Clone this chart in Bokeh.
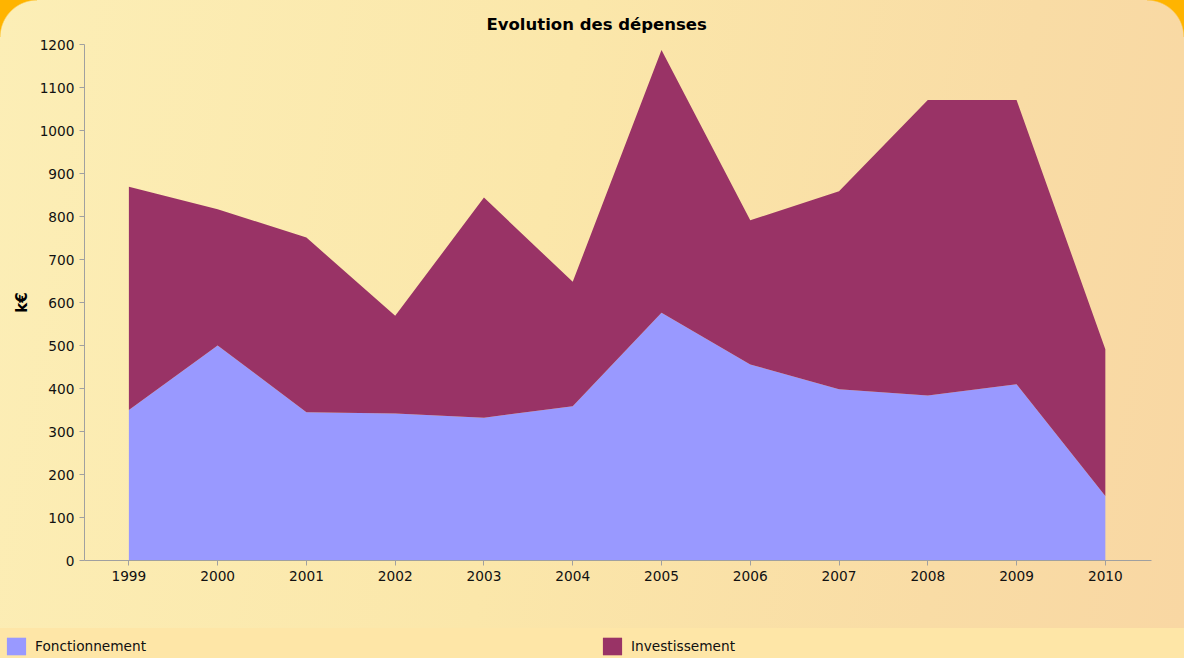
from bokeh.plotting import figure
from bokeh.models import ColumnDataSource, Range1d, FixedTicker, Legend, LegendItem
from bokeh.embed import file_html
from bokeh.resources import INLINE

# ---- data ----
years = [1999, 2000, 2001, 2002, 2003, 2004, 2005, 2006, 2007, 2008, 2009, 2010]
fonctionnement = [350, 500, 345, 342, 332, 359, 576, 456, 398, 384, 410, 150]
investissement = [519, 317, 406, 227, 512, 289, 611, 335, 461, 687, 661, 341]
series_names = ["Fonctionnement", "Investissement"]
series_colors = ["#9999FF", "#993366"]
y_ticks = [0, 100, 200, 300, 400, 500, 600, 700, 800, 900, 1000, 1100, 1200]
title_text = "Evolution des dépenses"
y_label = "k€"

src = ColumnDataSource(dict(year=years,
                            Fonctionnement=fonctionnement,
                            Investissement=investissement))

FONT = "DejaVu Sans"
AXIS_GRAY = "#A0A0A0"
W = 1184

p = figure(width=W, height=628, output_backend="svg", toolbar_location=None,
           x_range=Range1d(1998.5, 2010.52), y_range=Range1d(0, 1200),
           min_border_left=84, min_border_right=33, min_border_top=44,
           min_border_bottom=68, title=title_text)

renderers = p.varea_stack(series_names, x="year", color=series_colors, source=src)

# title
p.title.text_font = FONT
p.title.text_font_size = "16.5px"
p.title.text_font_style = "bold"
p.title.text_color = "#000000"
p.title.align = "left"
p.title.offset = 402
p.title.standoff = 22

# axes
p.xaxis.ticker = FixedTicker(ticks=years)
p.yaxis.ticker = FixedTicker(ticks=y_ticks)
for ax in (p.xaxis, p.yaxis):
    ax.axis_line_color = AXIS_GRAY
    ax.major_tick_line_color = AXIS_GRAY
    ax.major_tick_out = 5
    ax.major_tick_in = 0
    ax.minor_tick_line_color = None
    ax.major_label_text_font = FONT
    ax.major_label_text_font_size = "13.7px"
    ax.major_label_text_color = "#111111"
    ax.major_label_standoff = 5
p.yaxis.axis_label = y_label
p.yaxis.axis_label_text_font = FONT
p.yaxis.axis_label_text_font_size = "15px"
p.yaxis.axis_label_text_font_style = "bold"
p.yaxis.axis_label_text_color = "#000000"
p.yaxis.axis_label_standoff = 6

p.xgrid.visible = False
p.ygrid.visible = False
p.outline_line_color = None
p.border_fill_color = None
p.background_fill_color = None
p.styles = {
    "background": (
        "radial-gradient(circle at 100% 100%, rgba(0,0,0,0) 36px, #FFB400 37.5px) 0 0 / 37px 37px no-repeat, "
        "radial-gradient(circle at 0 100%, rgba(0,0,0,0) 36px, #FFB400 37.5px) 100% 0 / 37px 37px no-repeat, "
        "linear-gradient(100deg, #FCEEB6 0%, #FBE7AA 45%, #F9DCA5 80%, #F9D7A3 100%)"
    )
}

# ---- legend strip: a second root, same series drawn out of view ----
lp = figure(width=W, height=30, output_backend="svg", toolbar_location=None,
            x_range=Range1d(0, 1), y_range=Range1d(0, 1),
            x_axis_location=None, y_axis_location=None,
            min_border=0)
lp.xgrid.visible = False
lp.ygrid.visible = False
lp.outline_line_color = None
lp.border_fill_color = None
lp.background_fill_color = None
lp.styles = {"background": "#FEE6A7"}
lrs = lp.varea_stack(series_names, x="year", color=series_colors, source=src)
legend_items = [LegendItem(label=n, renderers=[r]) for n, r in zip(series_names, lrs)]
legend = Legend(items=legend_items, orientation="horizontal", location=(4, 1),
                glyph_width=24, glyph_height=22, label_standoff=7,
                label_width=565, spacing=0, padding=0, margin=0,
                border_line_alpha=0, background_fill_alpha=0,
                label_text_font=FONT, label_text_font_size="13.7px",
                label_text_color="#111111")
lp.add_layout(legend)

open("out.html", "w").write(file_html([p, lp], INLINE))
